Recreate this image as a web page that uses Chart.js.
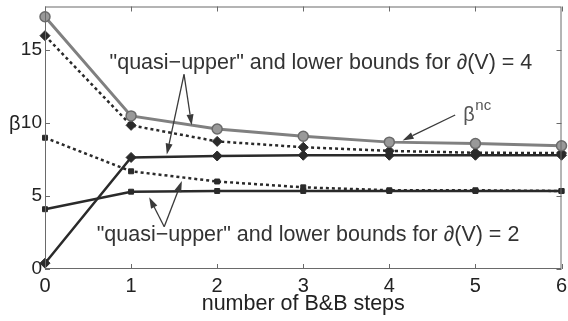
<!DOCTYPE html>
<html>
<head>
<meta charset="utf-8">
<script src="https://cdn.jsdelivr.net/npm/chart.js@4/dist/chart.umd.min.js"></script>
<style>
  html, body { margin: 0; padding: 0; background: #fff; }
  #wrap { width: 568px; height: 321px; position: relative; }
</style>
</head>
<body>
<div id="wrap"><canvas id="c" width="568" height="321"></canvas></div>
<script>
// Branch-and-bound progress: bounds on beta per step
const steps = [0, 1, 2, 3, 4, 5, 6];
const betaNc = [17.3, 10.5, 9.6, 9.1, 8.7, 8.6, 8.45];
const upper4 = [16.0, 9.85, 8.75, 8.35, 8.1, 7.97, 7.95];
const lower4 = [0.4, 7.65, 7.75, 7.8, 7.8, 7.8, 7.8];
const upper2 = [9.0, 6.7, 6.0, 5.6, 5.4, 5.4, 5.35];
const lower2 = [4.1, 5.3, 5.35, 5.35, 5.35, 5.35, 5.35];
const xTicks = [0, 1, 2, 3, 4, 5, 6];
const yTicks = [0, 5, 10, 15];
const xTitle = 'number of B&B steps';

const FONT = '"Liberation Sans", Arial, Helvetica, sans-serif';
const INK = '#2a2a2a';

function pts(ys) { return steps.map((s, i) => ({ x: s, y: ys[i] })); }

// text labels and arrows, placed in data units
const notes = [
  { text: '"quasi\u2212upper" and lower bounds for \u2202(V) = 4', x: 0.75, y: 13.7 },
  { text: '"quasi\u2212upper" and lower bounds for \u2202(V) = 2', x: 0.6, y: 1.9 }
];
const arrows = [
  { from: [1.615, 13.35], to: [1.415, 7.85] },
  { from: [1.615, 13.35], to: [1.704, 9.85] },
  { from: [1.385, 2.9], to: [1.21, 4.92] },
  { from: [1.385, 2.9], to: [1.59, 6.04] },
  { from: [4.765, 10.56], to: [4.154, 8.82] }
];

const decor = {
  id: 'decor',
  afterDatasetsDraw(chart) {
    const { ctx, chartArea: a, scales: { x, y } } = chart;
    ctx.save();
    // box
    ctx.strokeStyle = '#6a6a6a';
    ctx.lineWidth = 1;
    ctx.strokeRect(a.left + 0.5, a.top + 0.5, a.right - a.left - 1, a.bottom - a.top - 1);
    // inward ticks on all four sides
    const tl = 5;
    ctx.beginPath();
    xTicks.forEach(v => {
      const px = Math.round(x.getPixelForValue(v)) + 0.5;
      ctx.moveTo(px, a.bottom); ctx.lineTo(px, a.bottom - tl);
      ctx.moveTo(px, a.top); ctx.lineTo(px, a.top + tl);
    });
    yTicks.forEach(v => {
      const py = Math.round(y.getPixelForValue(v)) + 0.5;
      ctx.moveTo(a.left, py); ctx.lineTo(a.left + tl, py);
      ctx.moveTo(a.right, py); ctx.lineTo(a.right - tl, py);
    });
    ctx.stroke();

    // arrows
    ctx.strokeStyle = '#3a3a3a';
    ctx.fillStyle = '#3a3a3a';
    ctx.lineWidth = 1.3;
    arrows.forEach(ar => {
      const x0 = x.getPixelForValue(ar.from[0]), y0 = y.getPixelForValue(ar.from[1]);
      const x1 = x.getPixelForValue(ar.to[0]), y1 = y.getPixelForValue(ar.to[1]);
      const ang = Math.atan2(y1 - y0, x1 - x0);
      const hl = 11, hw = 3.5;
      const bx = x1 - hl * Math.cos(ang), by = y1 - hl * Math.sin(ang);
      ctx.beginPath();
      ctx.moveTo(x0, y0); ctx.lineTo(bx, by);
      ctx.stroke();
      ctx.beginPath();
      ctx.moveTo(x1, y1);
      ctx.lineTo(bx + hw * Math.sin(ang), by - hw * Math.cos(ang));
      ctx.lineTo(bx - hw * Math.sin(ang), by + hw * Math.cos(ang));
      ctx.closePath();
      ctx.fill();
    });

    // annotation texts
    ctx.fillStyle = '#333';
    ctx.textBaseline = 'alphabetic';
    ctx.textAlign = 'left';
    ctx.font = '21.5px ' + FONT;
    notes.forEach(n => {
      ctx.fillText(n.text, x.getPixelForValue(n.x), y.getPixelForValue(n.y));
    });

    // beta^nc label
    const bx = x.getPixelForValue(4.86), by = y.getPixelForValue(10.16);
    ctx.fillStyle = '#555';
    ctx.font = '20px ' + FONT;
    ctx.fillText('\u03B2', bx, by);
    ctx.font = '15px ' + FONT;
    ctx.fillText('nc', bx + 12, by - 11);

    // y axis symbol
    ctx.fillStyle = '#222';
    ctx.font = '20px ' + FONT;
    ctx.fillText('\u03B2', 9, y.getPixelForValue(10) + 7);

    // x axis title
    ctx.textAlign = 'center';
    ctx.font = '21.5px ' + FONT;
    ctx.fillText(xTitle, (a.left + a.right) / 2, a.bottom + 41);
    ctx.restore();
  }
};

const darkLine = (data, dashed, style, r) => ({
  data: pts(data),
  borderColor: INK,
  backgroundColor: INK,
  borderWidth: 2.5,
  borderDash: dashed ? [3, 3] : [],
  pointStyle: style,
  pointRadius: r,
  pointBorderWidth: 1,
  pointBorderColor: INK,
  pointBackgroundColor: INK,
  tension: 0,
  clip: false
});

new Chart(document.getElementById('c'), {
  type: 'line',
  data: {
    datasets: [
      {
        data: pts(betaNc),
        borderColor: '#808080',
        backgroundColor: '#8e8e8e',
        borderWidth: 3,
        pointStyle: 'circle',
        pointRadius: 5,
        pointBorderWidth: 1.5,
        pointBorderColor: '#6a6a6a',
        pointBackgroundColor: '#999',
        tension: 0,
        clip: false
      },
      darkLine(upper4, true, 'rectRot', 5),
      darkLine(lower4, false, 'rectRot', 5),
      darkLine(upper2, true, 'rect', 3.5),
      darkLine(lower2, false, 'rect', 3.5)
    ]
  },
  options: {
    responsive: false,
    animation: false,
    events: [],
    layout: { padding: { top: 3, right: 3, bottom: 0, left: 0 } },
    plugins: { legend: { display: false }, tooltip: { enabled: false } },
    scales: {
      x: {
        type: 'linear',
        min: 0, max: 6,
        grid: { display: false, drawTicks: false },
        border: { display: false },
        afterBuildTicks: s => { s.ticks = xTicks.map(v => ({ value: v })); },
        afterFit: s => { s.height = 52; s.paddingLeft = 0; s.paddingRight = 0; },
        ticks: {
          padding: 5, maxRotation: 0, autoSkip: false,
          color: '#222', font: { family: FONT, size: 20 }
        },
        title: { display: false }
      },
      y: {
        type: 'linear',
        min: 0, max: 18,
        grid: { display: false, drawTicks: false },
        border: { display: false },
        afterBuildTicks: s => { s.ticks = yTicks.map(v => ({ value: v })); },
        afterFit: s => { s.width = 45; s.paddingTop = 0; s.paddingBottom = 0; },
        ticks: {
          padding: 3, color: '#222', font: { family: FONT, size: 19 }
        }
      }
    }
  },
  plugins: [decor]
});
</script>
</body>
</html>
